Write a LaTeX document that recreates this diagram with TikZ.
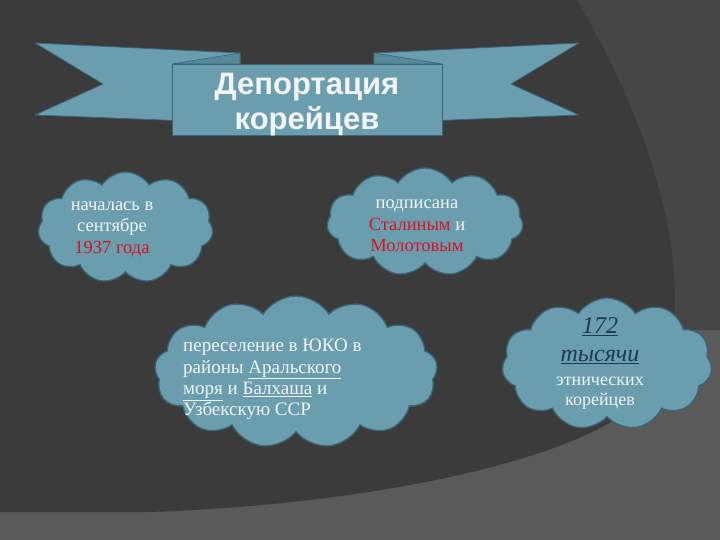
\documentclass[tikz,border=0pt]{standalone}
\usepackage{fontspec}
\setmainfont{Liberation Serif}
\newfontfamily\titlefont{Liberation Sans}
\usetikzlibrary{shapes.symbols}
\definecolor{bglight}{HTML}{5A5A5A}
\definecolor{bgmid}{HTML}{464646}
\definecolor{bgdark}{HTML}{3B3B3B}
\definecolor{teal}{HTML}{6A9EAF}
\definecolor{tealdark}{HTML}{56899A}
\definecolor{tealline}{HTML}{3C6676}
\definecolor{txtwhite}{HTML}{F2F4F5}
\definecolor{txtred}{HTML}{D8121E}
\definecolor{txtnavy}{HTML}{1F3A4C}
\tikzset{
  cloudbox/.style={cloud, cloud puffs=11, cloud puff arc=115, fill=teal, draw=tealline, line width=1.3pt, inner sep=0pt},
  ribbon/.style={fill=teal, draw=tealline, line width=0.8pt, line join=round},
  fold/.style={fill=tealdark, draw=tealline, line width=0.6pt},
  cloudtext/.style={text=txtwhite, font=\fontsize{18.5}{21.5}\selectfont, align=center, inner sep=0pt},
}
\begin{document}
\begin{tikzpicture}[x=1pt,y=-1pt]
\useasboundingbox (0,0) rectangle (720,540);
% background
\fill[bglight] (0,0) rectangle (720,540);
\fill[bgmid] (560,0) -- (720,0) -- (720,330) -- (660,330) -- cycle;
\fill[bgdark] (0,0) -- (577,0) .. controls (630,90) and (675,200) .. (675,300)
  .. controls (675,360) and (640,410) .. (600,428)
  .. controls (520,470) and (350,505) .. (150,512) -- (0,512) -- cycle;
% banner
\draw[ribbon] (35,43) -- (240,53) -- (240,123) -- (35,115) -- (103,84) -- cycle;
\draw[ribbon] (579,43) -- (374,53) -- (374,123) -- (579,115) -- (511,84) -- cycle;
\draw[fold] (172,64) -- (240,53) -- (240,64) -- cycle;
\draw[fold] (442,64) -- (374,53) -- (374,64) -- cycle;
\node[ribbon, rectangle, minimum width=270pt, minimum height=71pt, inner sep=0pt] (title) at (307,99.5) {};
\node[text=txtwhite, font=\titlefont\bfseries\fontsize{31}{35}\selectfont, align=center, inner sep=0pt] (titletext) at (307,105) {Депортация\\корейцев};
% clouds
\node[cloudbox, minimum width=175pt, minimum height=111pt] (c1) at (125.5,227.5) {};
\node[cloudbox, minimum width=196pt, minimum height=108pt] (c2) at (425,222) {};
\node[cloudbox, minimum width=283pt, minimum height=152pt, cloud puffs=13] (c3) at (296,372) {};
\node[cloudbox, minimum width=210pt, minimum height=132pt] (c4) at (607,364) {};
% texts
\node[cloudtext] (t1) at (112,229) {началась в\\сентябре\\\textcolor{txtred}{1937 года}};
\node[cloudtext] (t2) at (417,226) {подписана\\\textcolor{txtred}{Сталиным} и\\\textcolor{txtred}{Молотовым}};
\node[cloudtext, font=\fontsize{19}{21.3}\selectfont, align=left, anchor=north west] (t3) at (183,339) {переселение в ЮКО в\\районы \underline{Аральского}\\\underline{моря} и \underline{Балхаша} и\\Узбекскую ССР};
\node[text=txtnavy, font=\itshape\fontsize{24}{28}\selectfont, align=center, inner sep=0pt] (t4a) at (600,341) {\underline{172}\\\underline{тысячи}};
\node[cloudtext, font=\fontsize{18}{20.5}\selectfont] (t4b) at (600,393) {этнических\\корейцев};
\end{tikzpicture}
\end{document}
